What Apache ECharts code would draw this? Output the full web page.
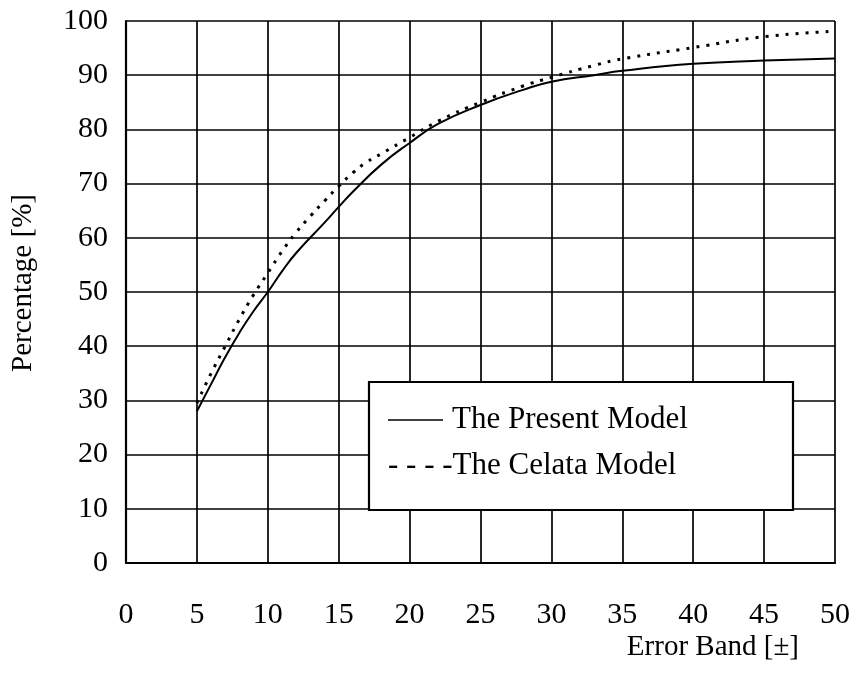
<!DOCTYPE html>
<html>
<head>
<meta charset="utf-8">
<script src="https://cdn.jsdelivr.net/npm/echarts@6/dist/echarts.min.js"></script>
<style>html,body{margin:0;padding:0;background:#fff}#c{width:853px;height:674px}</style>
</head>
<body>
<div id="c"></div>
<script>
var xPresent = [5, 6, 7, 8, 9, 10, 11, 12, 14, 15, 16, 18, 20, 22, 25, 28, 30, 33, 35, 40, 45, 50];
var yPresent = [28, 33, 38, 42.5, 46.5, 50, 53.8, 57.2, 62.8, 65.7, 68.5, 73.5, 77.5, 81, 84.5, 87.3, 88.8, 90, 90.8, 92.1, 92.7, 93.1];
var xCelata = [5, 6, 7, 8, 9, 10, 11, 12, 13, 14, 15, 16, 17, 18, 20, 22, 25, 28, 30, 33, 35, 40, 45, 50];
var yCelata = [29.5, 35, 40, 45, 49.5, 53.5, 57.5, 61, 64, 66.8, 69.5, 72, 74, 75.5, 78.5, 81.5, 85, 88, 89.6, 91.8, 93, 95.1, 97.1, 98.1];
var xTicks = [0, 5, 10, 15, 20, 25, 30, 35, 40, 45, 50];
var yTicks = [0, 10, 20, 30, 40, 50, 60, 70, 80, 90, 100];
var legendLabels = ['The Present Model', '- - - -The Celata Model'];

function pairs(xs, ys) { return xs.map(function (x, i) { return [x, ys[i]]; }); }

var font = 'Liberation Serif';
var chart = echarts.init(document.getElementById('c'), null, {renderer: 'canvas'});
chart.setOption({
  animation: false,
  backgroundColor: '#fff',
  grid: {left: 126, top: 21, width: 709, height: 542, containLabel: false, outerBoundsMode: 'none'},
  xAxis: {
    type: 'value', min: xTicks[0], max: xTicks[xTicks.length - 1], interval: 5,
    name: 'Error Band [±]', nameLocation: 'end', nameGap: 0,
    nameTextStyle: {fontFamily: font, fontSize: 29, color: '#000', align: 'right', verticalAlign: 'top', padding: [70, 36, 0, 0]},
    axisLine: {lineStyle: {color: '#000', width: 2.2}},
    axisTick: {show: false},
    axisLabel: {fontFamily: font, fontSize: 30, color: '#000', margin: 37},
    splitLine: {show: true, lineStyle: {color: '#000', width: 1.7}}
  },
  yAxis: {
    type: 'value', min: yTicks[0], max: yTicks[yTicks.length - 1], interval: 10,
    name: 'Percentage [%]', nameLocation: 'middle', nameGap: 88, nameRotate: 90,
    nameTextStyle: {fontFamily: font, fontSize: 29, color: '#000', padding: [0, 0, 0, 18]},
    axisLine: {show: true, lineStyle: {color: '#000', width: 2.2}},
    axisTick: {show: false},
    axisLabel: {fontFamily: font, fontSize: 30, color: '#000', margin: 18},
    splitLine: {show: true, lineStyle: {color: '#000', width: 1.7}}
  },
  series: [
    {name: legendLabels[0], type: 'line', data: pairs(xPresent, yPresent), smooth: true, symbol: 'none',
     lineStyle: {color: '#000', width: 2}, z: 3},
    {name: legendLabels[1], type: 'line', data: pairs(xCelata, yCelata), smooth: true, symbol: 'none',
     lineStyle: {color: '#000', width: 3, type: [3, 7]}, z: 4}
  ],
  graphic: [
    {type: 'rect', z: 10, shape: {x: 369, y: 382, width: 424, height: 128},
     style: {fill: '#fff', stroke: '#000', lineWidth: 2.2}},
    {type: 'line', z: 11, shape: {x1: 388, y1: 420, x2: 443, y2: 420},
     style: {stroke: '#000', lineWidth: 1.5}},
    {type: 'text', z: 11, x: 452, y: 420,
     style: {text: legendLabels[0], fontFamily: font, fontSize: 31, fill: '#000', verticalAlign: 'middle'}},
    {type: 'text', z: 11, x: 388, y: 466,
     style: {text: legendLabels[1], fontFamily: font, fontSize: 31, fill: '#000', verticalAlign: 'middle'}}
  ]
});
</script>
</body>
</html>
